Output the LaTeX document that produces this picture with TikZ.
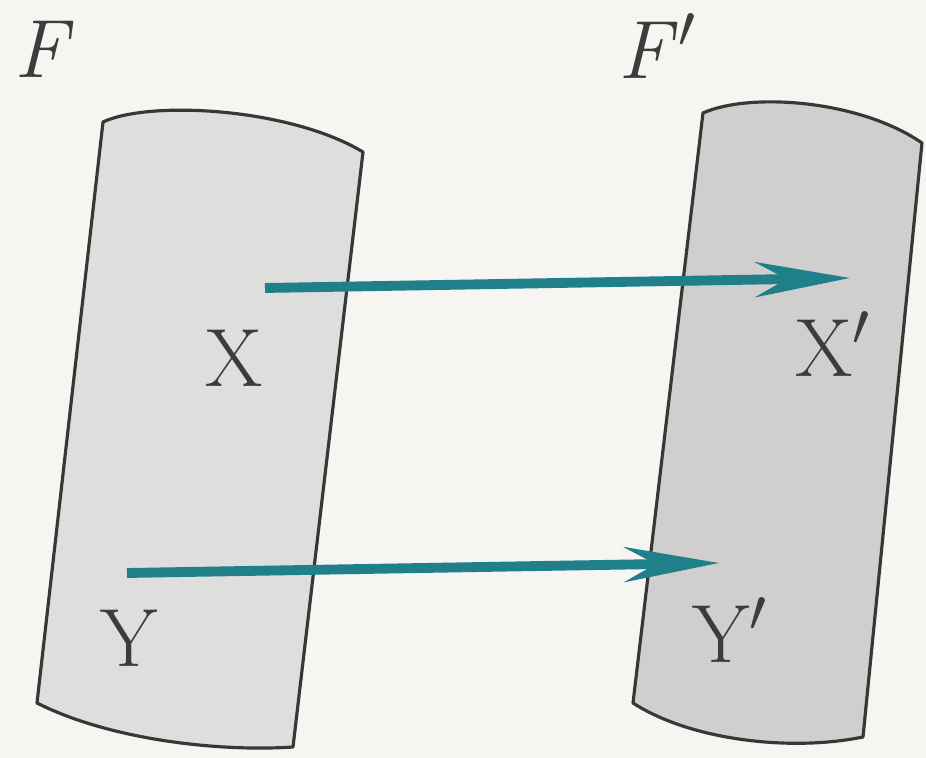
\documentclass[tikz,border=0pt]{standalone}
\usetikzlibrary{arrows.meta}
\definecolor{paper}{RGB}{246,245,242}
\definecolor{fillA}{RGB}{222,222,221}
\definecolor{fillB}{RGB}{208,207,206}
\definecolor{edge}{RGB}{55,55,55}
\definecolor{teal}{RGB}{32,128,138}
\definecolor{ink}{RGB}{60,60,60}
\begin{document}
\begin{tikzpicture}[x=0.01cm,y=-0.01cm,
  region/.style={draw=edge,line width=0.9pt,line join=round},
  lbl/.style={inner sep=0pt,anchor=base west,text=ink,font=\fontsize{23.5}{28}\selectfont},
  mapto/.style={draw=teal,line width=2.8pt,
    -{Stealth[length=27pt,width=10pt,inset=9pt]}}]
\useasboundingbox (0,0) rectangle (926,758);
\fill[paper] (0,0) rectangle (926,758);
% region F
\path[region,fill=fillA] (103,122) .. controls (150,100) and (290,108) .. (363,152)
  -- (293,747) .. controls (220,752) and (110,740) .. (37,703) -- cycle;
% region F'
\path[region,fill=fillB] (703,113) .. controls (750,92) and (860,100) .. (922,143)
  -- (863,737) .. controls (790,752) and (690,740) .. (633,703) -- cycle;
% labels
\node[lbl] (F)  at (14,78)  {\itshape F};
\node[lbl] (Fp) at (618,79) {\itshape F\kern2pt$^{\prime}$};
\node[lbl] (X)  at (205,387) {X};
\node[lbl] (Xp) at (795,377) {X$^{\prime}$};
\node[lbl] (Y)  at (100,667) {Y};
\node[lbl] (Yp) at (692,663) {Y$^{\prime}$};
% arrows
\coordinate (xs) at (265,288);
\coordinate (xt) at (850,278);
\coordinate (ys) at (127,573);
\coordinate (yt) at (719,563);
\draw[mapto] (xs) -- (xt);
\draw[mapto] (ys) -- (yt);
\end{tikzpicture}
\end{document}
